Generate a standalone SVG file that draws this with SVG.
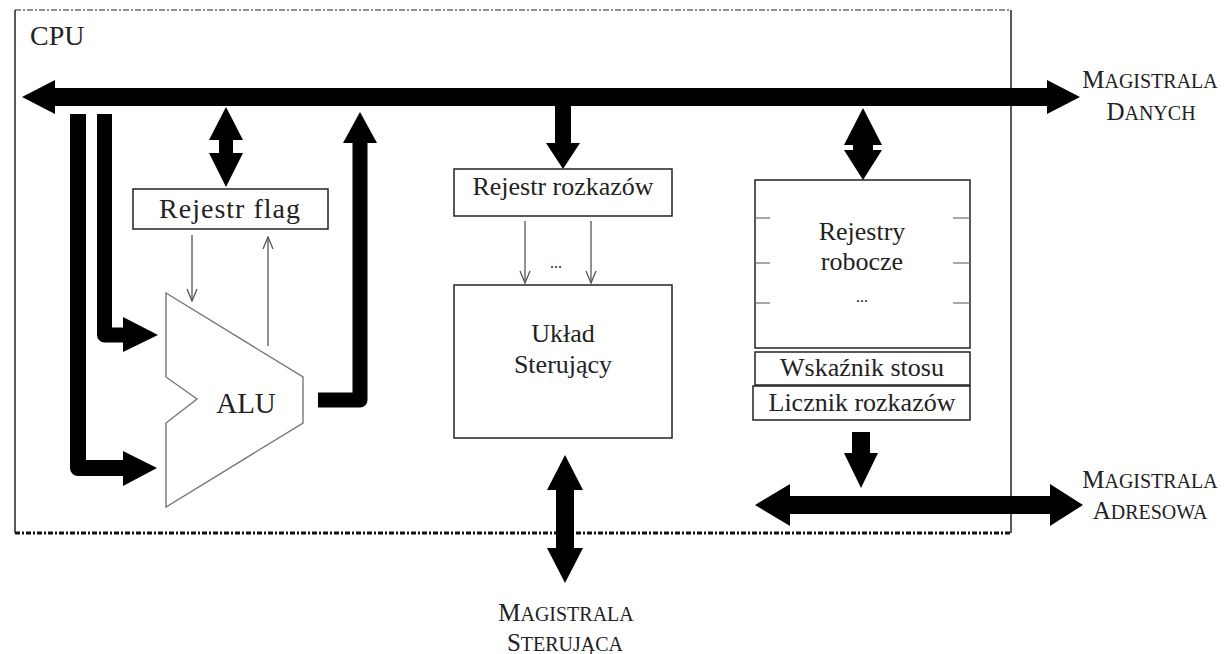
<svg xmlns="http://www.w3.org/2000/svg" width="1227" height="654" viewBox="0 0 1227 654">
<style>
.t{font-family:"Liberation Serif","Times New Roman",serif;fill:#222;}
.box{fill:#fff;stroke:#222;stroke-width:1.5;}
.thin{stroke:#555;stroke-width:1.3;fill:none;}
.big{fill:#000;}
.bar{fill:none;stroke:#000;stroke-linejoin:round;stroke-linecap:butt;}
.sc{font-size:20px;}
.cap{font-size:25px;}
</style>
<defs>
<marker id="open" viewBox="0 0 14 12" refX="13" refY="6" markerWidth="14" markerHeight="12" orient="auto" markerUnits="userSpaceOnUse">
<path d="M1,1 L13,6 L1,11" fill="none" stroke="#555" stroke-width="1.3"/>
</marker>
</defs>
<rect width="1227" height="654" fill="#fff"/>
<g id="cpu">
<line x1="15" y1="10" x2="1011" y2="10" stroke="#222" stroke-width="1.2" stroke-dasharray="6 2 2 2"/>
<line x1="15" y1="10" x2="15" y2="533" stroke="#222" stroke-width="1.5"/>
<line x1="1011" y1="10" x2="1011" y2="533" stroke="#222" stroke-width="1.5"/>
<line x1="15" y1="533" x2="1011" y2="533" stroke="#111" stroke-width="3" stroke-dasharray="5 2 2 2"/>
<text class="t" x="30" y="45" font-size="28">CPU</text>
</g>
<g id="connectors">
<polygon class="big" points="22,97 55,80 55,88 1047,88 1047,80 1080,97 1047,114 1047,106 55,106 55,114"/>
<polygon class="big" points="226,107 243,140 233,140 233,153 243,153 226,187 209,153 219,153 219,140 209,140"/>
<polyline class="bar" stroke-width="15" points="104.5,114 104.5,335 125,335"/>
<polygon class="big" points="123,317 158,335 123,352"/>
<polyline class="bar" stroke-width="16" points="78,114 78,468 125,468"/>
<polygon class="big" points="123,451 157,468 123,486"/>
<polyline class="bar" stroke-width="15" points="318,400 360,400 360,142"/>
<polygon class="big" points="343,143 360,112 377,143"/>
<line class="thin" x1="192" y1="235" x2="192" y2="301" marker-end="url(#open)"/>
<line class="thin" x1="268" y1="346" x2="268" y2="237" marker-end="url(#open)"/>
<polygon class="big" points="555,106 571,106 571,143 580,143 563,169 546,143 555,143"/>
<line class="thin" x1="525" y1="221" x2="525" y2="283" marker-end="url(#open)"/>
<line class="thin" x1="591" y1="221" x2="591" y2="283" marker-end="url(#open)"/>
<polygon class="big" points="565,455 583,490 574,490 574,548 583,548 565,583 547,548 556,548 556,490 547,490"/>
<polygon class="big" points="863,108 882,145 873,145 873,150 882,150 863,180 844,150 853,150 853,145 844,145"/>
<polygon class="big" points="852,432 870,432 870,453 878,453 861,488 844,453 852,453"/>
<polygon class="big" points="755,505 790,484 790,496 1050,496 1050,484 1083,505 1050,526 1050,514 790,514 790,526"/>
</g>
<g id="rejestr-flag">
<rect class="box" x="133" y="189" width="195" height="40"/>
<text class="t" x="230" y="218" font-size="28" text-anchor="middle" letter-spacing="1">Rejestr flag</text>
</g>
<g id="alu">
<polygon points="166,293 303,377 303,423 166,507 166,423 197,399 166,377" fill="#fff" stroke="#777" stroke-width="1.4"/>
<text class="t" x="246" y="413" font-size="29" text-anchor="middle">ALU</text>
</g>
<g id="rejestr-rozkazow">
<rect class="box" x="454" y="169" width="218" height="47"/>
<text class="t" x="563" y="195" font-size="26" text-anchor="middle">Rejestr rozkazów</text>
</g>
<text class="t" x="556" y="268" font-size="16" text-anchor="middle" fill="#555">...</text>
<g id="uklad-sterujacy">
<rect class="box" x="454" y="285" width="218" height="153"/>
<text class="t" x="563" y="342" font-size="26" text-anchor="middle">Układ</text>
<text class="t" x="563" y="373" font-size="26" text-anchor="middle">Sterujący</text>
</g>
<g id="rejestry-robocze">
<rect class="box" x="755" y="180" width="215" height="168"/>
<g stroke="#777" stroke-width="1.3">
<line x1="755" y1="218" x2="770" y2="218"/><line x1="755" y1="263" x2="770" y2="263"/><line x1="755" y1="303" x2="770" y2="303"/>
<line x1="953" y1="218" x2="970" y2="218"/><line x1="953" y1="263" x2="970" y2="263"/><line x1="953" y1="303" x2="970" y2="303"/>
</g>
<text class="t" x="862" y="240" font-size="26" text-anchor="middle">Rejestry</text>
<text class="t" x="862" y="270" font-size="26" text-anchor="middle">robocze</text>
<text class="t" x="862" y="302" font-size="16" text-anchor="middle" fill="#555">...</text>
</g>
<g id="wskaznik-stosu">
<rect class="box" x="755" y="352" width="215" height="33"/>
<text class="t" x="862" y="376" font-size="26" text-anchor="middle">Wskaźnik stosu</text>
</g>
<g id="licznik-rozkazow">
<rect class="box" x="753" y="386" width="217" height="34"/>
<text class="t" x="862" y="411" font-size="26" text-anchor="middle">Licznik rozkazów</text>
</g>
<g id="magistrala-danych">
<text class="t" x="1150" y="88" text-anchor="middle"><tspan class="cap">M</tspan><tspan class="sc">AGISTRALA</tspan></text>
<text class="t" x="1151" y="120" text-anchor="middle"><tspan class="cap">D</tspan><tspan class="sc">ANYCH</tspan></text>
</g>
<g id="magistrala-adresowa">
<text class="t" x="1150" y="488" text-anchor="middle"><tspan class="cap">M</tspan><tspan class="sc">AGISTRALA</tspan></text>
<text class="t" x="1150" y="519" text-anchor="middle"><tspan class="cap">A</tspan><tspan class="sc">DRESOWA</tspan></text>
</g>
<g id="magistrala-sterujaca">
<text class="t" x="566" y="621" text-anchor="middle"><tspan class="cap">M</tspan><tspan class="sc">AGISTRALA</tspan></text>
<text class="t" x="565" y="651" text-anchor="middle"><tspan class="cap">S</tspan><tspan class="sc">TERUJĄCA</tspan></text>
</g>
</svg>
